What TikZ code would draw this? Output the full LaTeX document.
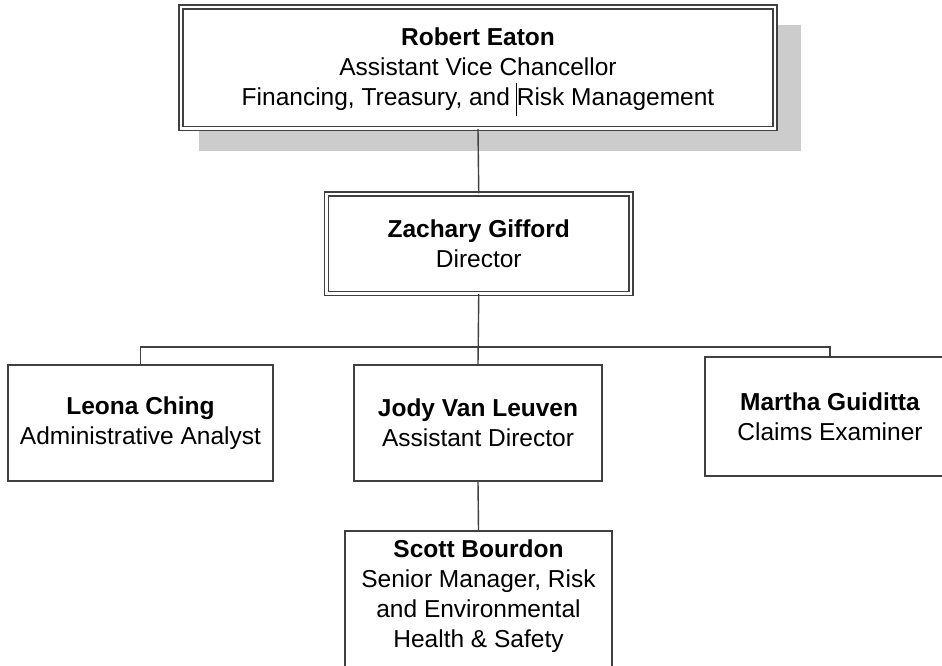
\documentclass[tikz,border=0pt]{standalone}
\usepackage{fontspec}
\setmainfont{Liberation Sans}
\definecolor{linec}{HTML}{404040}
\definecolor{shadowc}{HTML}{CCCCCC}
\begin{document}
\begin{tikzpicture}[x=1pt,y=-1pt,
  txt/.style={font=\fontsize{24.5}{30}\selectfont, align=center, text=black, inner sep=0pt},
  plainbox/.style={txt, draw=linec, line width=1.4pt},
  dblbox/.style={txt, draw=linec, line width=1.4pt, double=white, double distance=2.6pt},
  conn/.style={draw=linec, line width=1.4pt}]
\useasboundingbox (0,0) rectangle (942,666);
\clip (0,0) rectangle (942,666);
% shadow of top box
\fill[shadowc] (199,25) rectangle (801,151);
% boxes
\node[dblbox, fill=white, minimum width=594pt, minimum height=121.5pt] (eaton) at (478,67.75) {};
\node[txt] (eatontext) at (478,72)
  {\textbf{Robert Eaton}\\Assistant Vice Chancellor\\Financing, Treasury, and \rlap{\hspace{-1pt}\rule[-11pt]{0.8pt}{33pt}}Risk Management};
\node[dblbox, minimum width=304.5pt, minimum height=99.5pt] (gifford) at (478.75,243.75)
  {\textbf{Zachary Gifford}\\Director};
\node[plainbox, minimum width=265pt, minimum height=116pt] (ching) at (140.5,423)
  {\textbf{Leona Ching}\\Administrative Analyst};
\node[plainbox, minimum width=248pt, minimum height=116pt] (leuven) at (478,423)
  {\textbf{Jody Van Leuven}\\Assistant Director};
\node[plainbox, minimum width=250pt, minimum height=119pt] (guiditta) at (830,416.5)
  {\textbf{Martha Guiditta}\\Claims Examiner};
\node[plainbox, minimum width=267pt, minimum height=146pt] (bourdon) at (478.5,604) {};
\node[txt] (bourdontext) at (478.5,596)
  {\textbf{Scott Bourdon}\\Senior Manager, Risk\\and Environmental\\Health \& Safety};
% connectors
\coordinate (bus) at (478,347);
\draw[conn] (eaton.south) -- (gifford.north);
\draw[conn] (gifford.south) -- (leuven.north);
\draw[conn] (ching.north) |- (bus) -| (guiditta.north);
\draw[conn] (leuven.south) -- (bourdon.north);
\end{tikzpicture}
\end{document}
